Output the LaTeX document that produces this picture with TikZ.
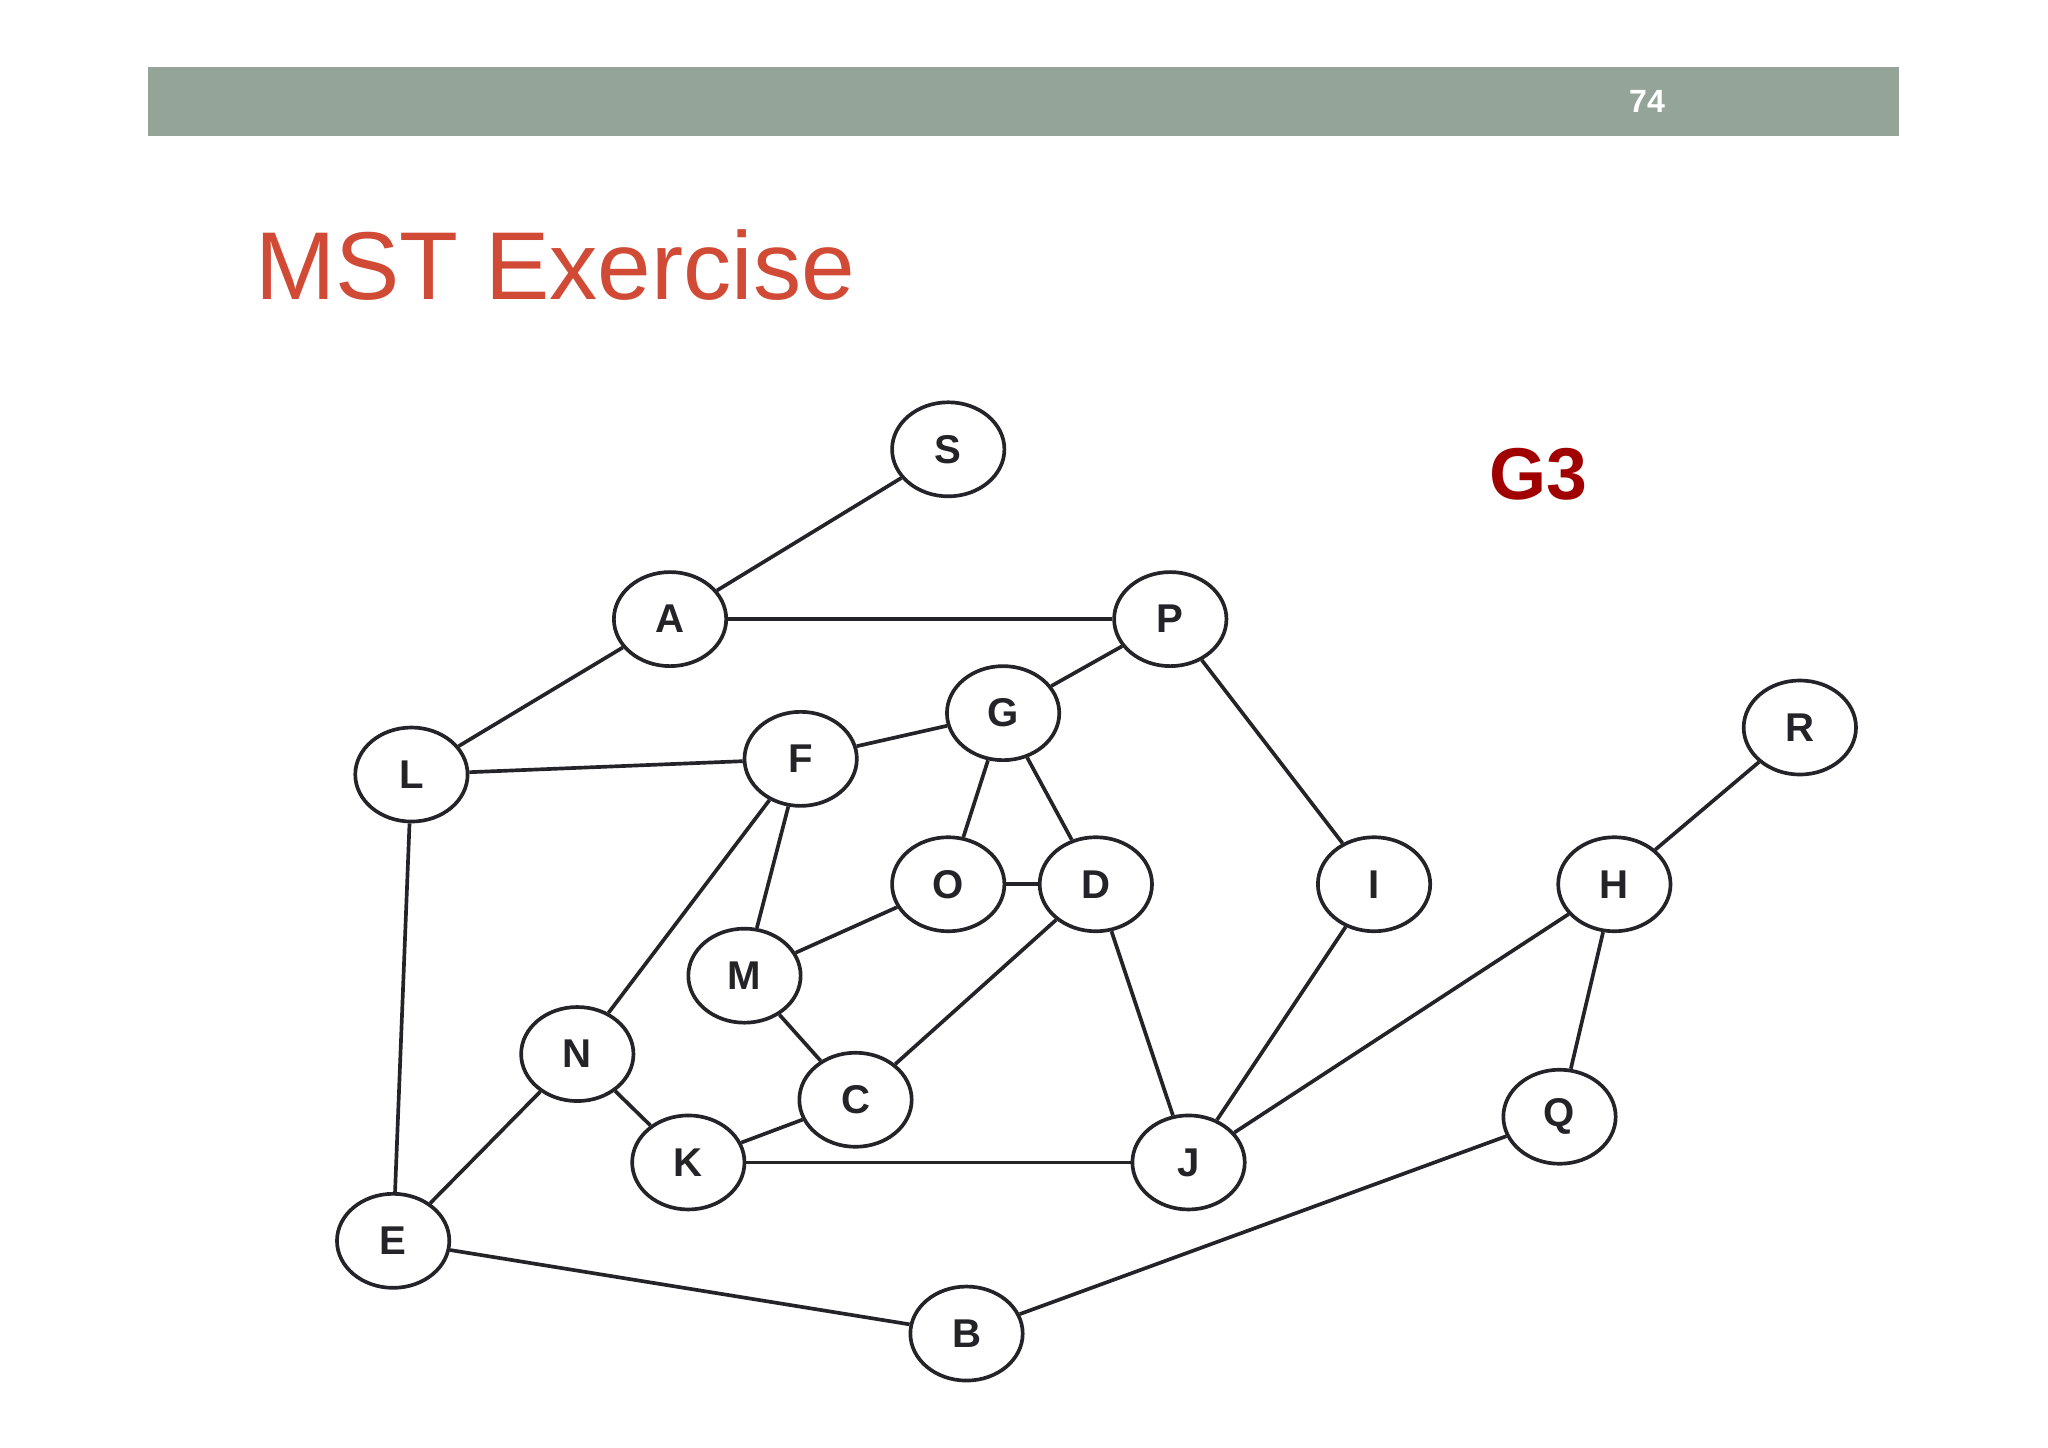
\documentclass[tikz,border=0pt]{standalone}
\usepackage{fontspec}
\setmainfont{Liberation Sans}
\usetikzlibrary{shapes.geometric}
\definecolor{bar}{RGB}{148,164,152}
\definecolor{ttl}{RGB}{208,74,53}
\definecolor{gthree}{RGB}{160,0,0}
\definecolor{edg}{RGB}{35,35,40}
\begin{document}
\begin{tikzpicture}[x=0.02cm,y=-0.02cm,
 v/.style={ellipse,draw=edg,line width=1.6pt,fill=white,minimum width=86*0.02cm,minimum height=72*0.02cm,inner sep=0pt,font=\fontsize{17.5}{20}\selectfont\bfseries,text=edg},
 e/.style={draw=edg,line width=1.6pt}]
\useasboundingbox (0,0) rectangle (1568,1108);
\fill[white] (0,0) rectangle (1568,1108);
\fill[bar] (113,51) rectangle (1454,104);
\node[text=white,font=\fontsize{14}{16}\selectfont\bfseries] (pg) at (1261,78) {74};
\node[anchor=base west,text=ttl,font=\fontsize{42}{46}\selectfont,inner sep=0pt] (title) at (195,229) {MST Exercise};
\node[text=gthree,font=\fontsize{32}{36}\selectfont\bfseries] (g3) at (1178,363) {G3};
\foreach \n/\x/\y in {S/726/344,A/513/474,P/896/474,G/768/546,F/613/581,L/315/593,R/1378/557,O/726/677,D/839/677,I/1052/677,H/1236/677,M/570/747,N/442/807,C/655/842,Q/1194/855,K/527/890,J/910/890,E/301/950,B/740/1021}
  \node[v] (\n) at (\x,\y) {\n};
\begin{scope}[on background layer/.style={}]
\foreach \a/\b in {S/A,A/P,A/L,L/F,L/E,P/G,P/I,G/F,G/O,G/D,F/N,F/M,O/D,O/M,D/C,D/J,I/J,H/J,H/R,H/Q,M/C,N/K,N/E,C/K,K/J,E/B,B/Q}
  \draw[e] (\a) -- (\b);
\end{scope}
\end{tikzpicture}
\end{document}
